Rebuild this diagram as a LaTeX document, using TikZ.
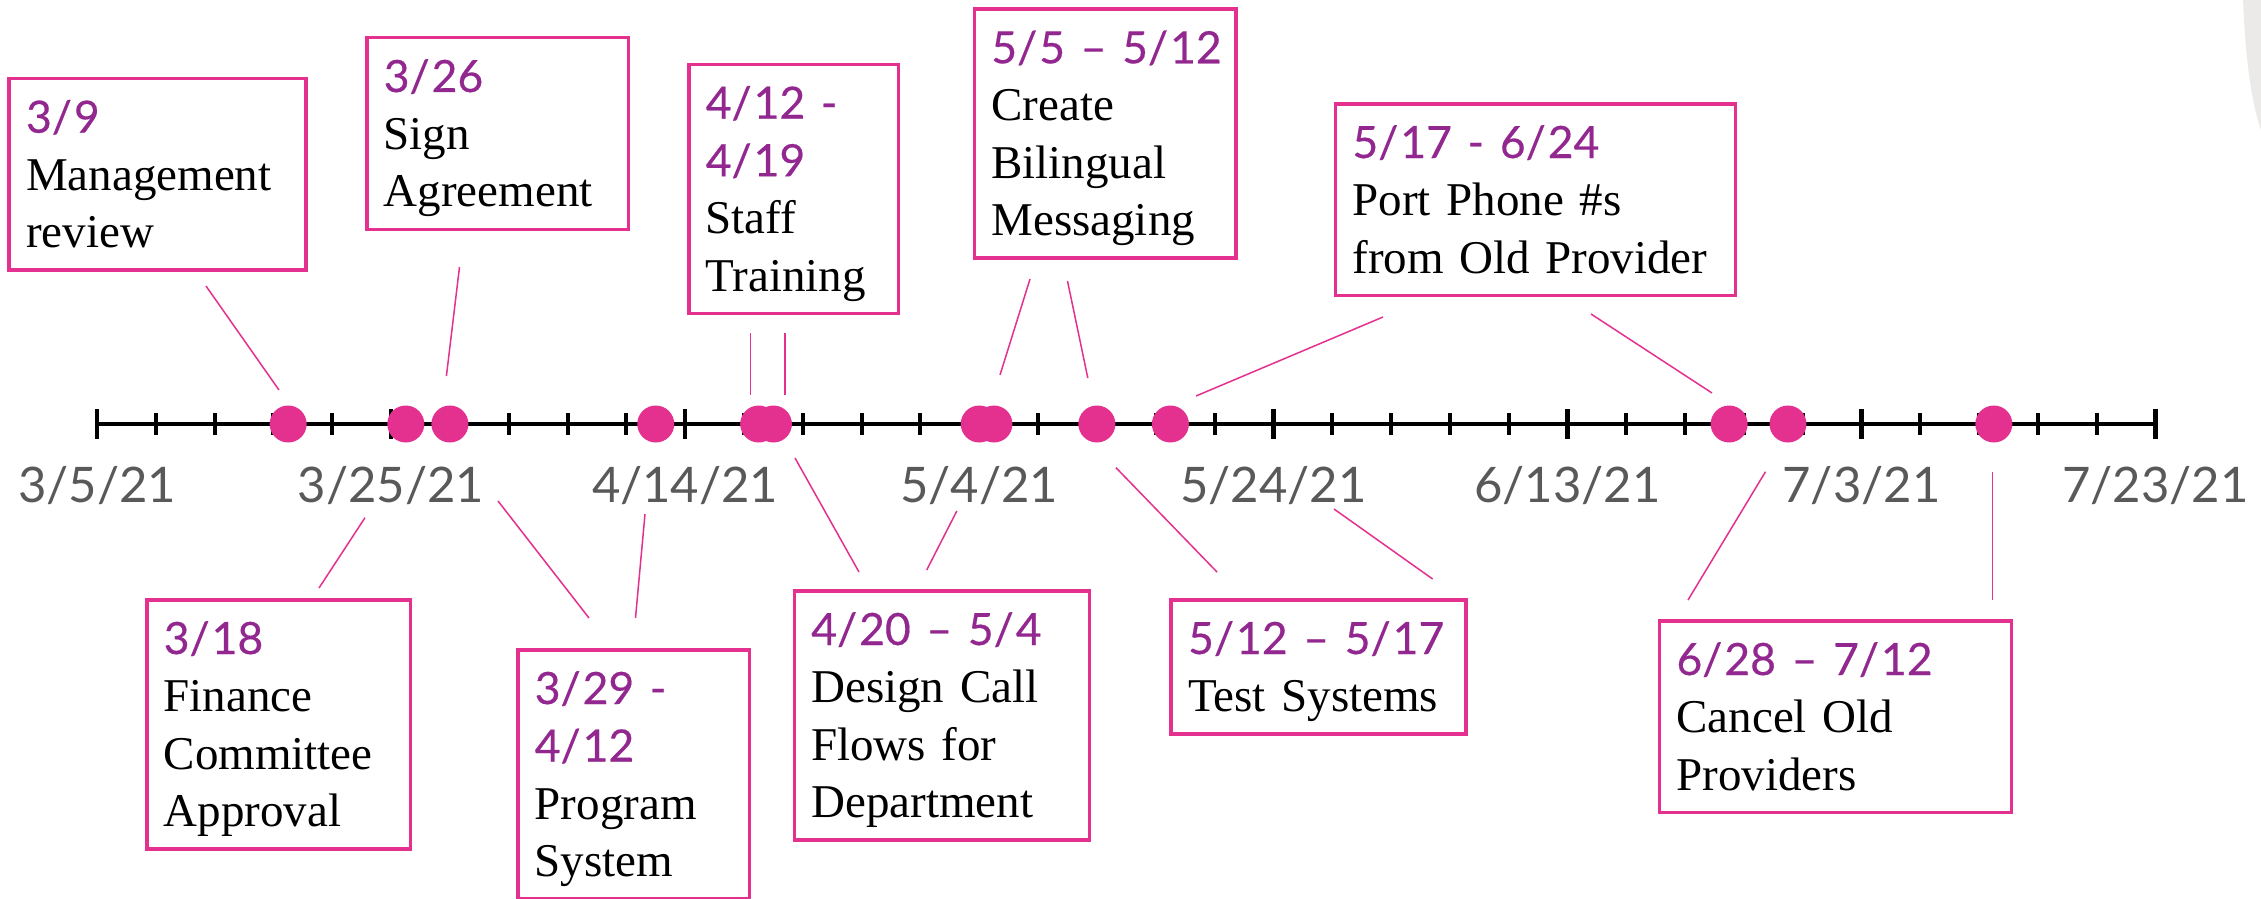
\documentclass[tikz,border=0pt]{standalone}
\usepackage{fontspec}
\setmainfont{Liberation Serif}
\newfontfamily\latofont{Lato}
\newfontfamily\datefont{Lato}[FakeBold=0.4]
\definecolor{accentpink}{RGB}{228,48,142}
\definecolor{datepurple}{RGB}{146,39,143}
\definecolor{axisgrey}{RGB}{89,89,89}
\definecolor{blobgrey}{RGB}{235,234,232}

% date line inside a card, kept on one line
\newcommand{\dt}[1]{\mbox{\datefont\fontsize{44.5}{57.5}\selectfont\color{datepurple}#1}}
% slash with a little air after it, as in the date lines
\newcommand{\dsl}{/\kern2pt}
% fixed space above the first baseline and below the last one
\newcommand{\topline}{\rule{0pt}{54.25pt}}
\newcommand{\botline}{\rule[-22.25pt]{0pt}{22.25pt}}

\tikzset{
  card/.style={draw=accentpink, line width=3.5pt, fill=white,
    inner xsep=17pt, inner ysep=0pt, align=left, anchor=north west,
    font=\fontsize{47}{57.5}\selectfont},
  link/.style={draw=accentpink, line width=1.5pt},
  dot/.style={circle, fill=accentpink, minimum size=37pt, inner sep=0pt},
  axislabel/.style={font=\latofont\fontsize{49}{58}\selectfont, text=axisgrey, anchor=base},
  minortick/.style={line width=4pt},
  majortick/.style={line width=4.5pt},
}

\begin{document}
\begin{tikzpicture}[x=1pt,y=-1pt]
\useasboundingbox (0,0) rectangle (2261,899);
\fill[white] (0,0) rectangle (2261,899);

% soft grey shape at the upper right edge
\fill[blobgrey] (2243,0) .. controls (2245,45) and (2249,95) .. (2261,130) -- (2261,0) -- cycle;

% time axis with ticks every four days
\draw[line width=4.5pt] (97,424) -- (2156,424);
\foreach \k in {1,...,34} {
  \draw[minortick] ({97+58.816*\k},413) -- ({97+58.816*\k},435);
}
\foreach \k in {0,...,7} {
  \draw[majortick] ({97+294.08*\k},409) -- ({97+294.08*\k},439);
}

% axis dates
\node[axislabel] (ax0) at (97,502) {3/5/21};
\node[axislabel] (ax1) at (391.1,502) {3/25/21};
\node[axislabel] (ax2) at (685.2,502) {4/14/21};
\node[axislabel] (ax3) at (979.2,502) {5/4/21};
\node[axislabel] (ax4) at (1273.3,502) {5/24/21};
\node[axislabel] (ax5) at (1567.4,502) {6/13/21};
\node[axislabel] (ax6) at (1861.5,502) {7/3/21};
\node[axislabel] (ax7) at (2155.6,502) {7/23/21};

% milestone dots (days after 3/5)
\foreach \d [count=\i] in {13,21,24,38,45,46,60,61,68,73,111,115,129} {
  \node[dot] (dot\i) at ({97+14.704*\d},424) {};
}

% cards above the axis
\node[card, text width=263pt] (mgmt) at (7.3,76.7)
  {\topline\dt{3\dsl 9}\\Management\\review\botline};
\node[card, text width=227.5pt] (sign) at (365,36)
  {\topline\dt{3\dsl 26}\\Sign\\Agreement\botline};
\node[card, text width=175.5pt] (staff) at (687,62.7)
  {\topline\dt{4\dsl 12 -}\\\dt{4\dsl 19}\\Staff\\Training\botline};
\node[card, text width=227.7pt] (create) at (972.6,7.3)
  {\topline\dt{5\dsl 5 – 5\dsl 12}\\Create\\Bilingual\\Messaging\botline};
\node[card, text width=365.8pt] (port) at (1333.7,102)
  {\topline\dt{5\dsl 17 - 6\dsl 24}\\Port Phone \#s\\from Old Provider\botline};

% cards below the axis
\node[card, text width=229.5pt] (finance) at (145,598)
  {\topline\dt{3\dsl 18}\\Finance\\Committee\\Approval\botline};
\node[card, text width=197.5pt] (program) at (516,648)
  {\topline\dt{3\dsl 29 -}\\\dt{4\dsl 12}\\Program\\System\botline};
\node[card, text width=261pt] (design) at (792.5,589)
  {\topline\dt{4\dsl 20 – 5\dsl 4}\\Design Call\\Flows for\\Department\botline};
\node[card, text width=260.9pt] (test) at (1169.4,598)
  {\topline\dt{5\dsl 12 – 5\dsl 17}\\Test Systems\botline};
\node[card, text width=317.8pt] (cancel) at (1657.7,619)
  {\topline\dt{6\dsl 28 – 7\dsl 12}\\Cancel Old\\Providers\botline};

% leader line end points
\coordinate (mgmtA) at (206,286);     \coordinate (mgmtB) at (279,390);
\coordinate (signA) at (459.5,267);   \coordinate (signB) at (446.4,376);
\coordinate (staffA) at (750.7,333);  \coordinate (staffB) at (750.7,395);
\coordinate (staffC) at (785,333);    \coordinate (staffD) at (785,395);
\coordinate (createA) at (1030,279);  \coordinate (createB) at (1000,375);
\coordinate (createC) at (1067.5,281);\coordinate (createD) at (1087.8,378);
\coordinate (portA) at (1383,317);    \coordinate (portB) at (1196,396);
\coordinate (portC) at (1591,314);    \coordinate (portD) at (1712,393);
\coordinate (finA) at (365,517.7);    \coordinate (finB) at (319,588);
\coordinate (progA) at (498,501);     \coordinate (progB) at (589,618);
\coordinate (progC) at (645,514);     \coordinate (progD) at (635.5,618);
\coordinate (desA) at (795,458);      \coordinate (desB) at (859,572);
\coordinate (desC) at (956.8,511);    \coordinate (desD) at (926.7,570);
\coordinate (testA) at (1116,467.7);  \coordinate (testB) at (1217,572);
\coordinate (testC) at (1334,509);    \coordinate (testD) at (1432.6,579);
\coordinate (canA) at (1765.5,471.7); \coordinate (canB) at (1688,600);
\coordinate (canC) at (1992.6,471.7); \coordinate (canD) at (1992.6,600);

% leader lines
\draw[link] (mgmtA) -- (mgmtB);
\draw[link] (signA) -- (signB);
\draw[link] (staffA) -- (staffB);
\draw[link] (staffC) -- (staffD);
\draw[link] (createA) -- (createB);
\draw[link] (createC) -- (createD);
\draw[link] (portA) -- (portB);
\draw[link] (portC) -- (portD);
\draw[link] (finA) -- (finB);
\draw[link] (progA) -- (progB);
\draw[link] (progC) -- (progD);
\draw[link] (desA) -- (desB);
\draw[link] (desC) -- (desD);
\draw[link] (testA) -- (testB);
\draw[link] (testC) -- (testD);
\draw[link] (canA) -- (canB);
\draw[link] (canC) -- (canD);
\end{tikzpicture}
\end{document}
